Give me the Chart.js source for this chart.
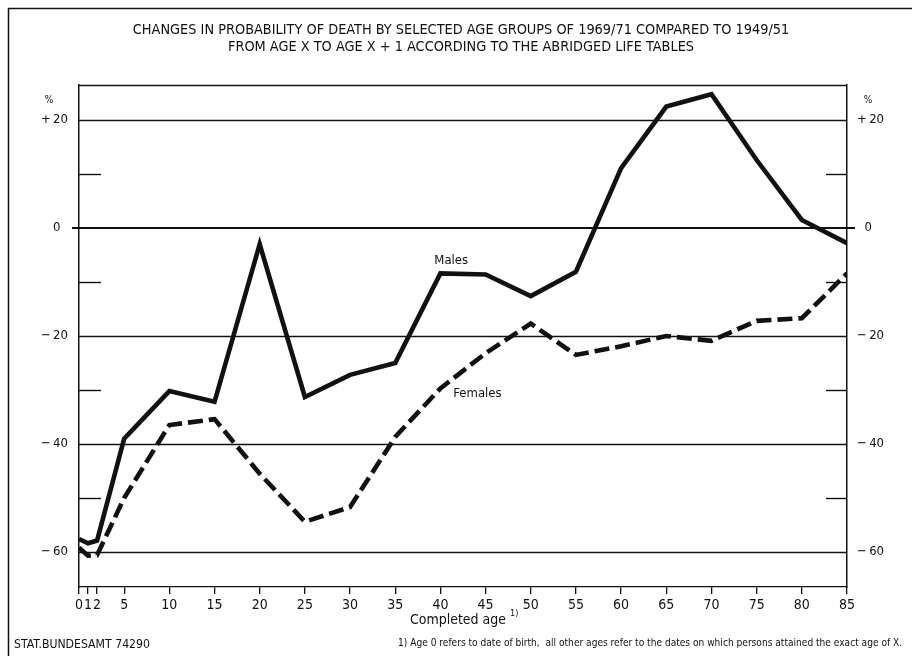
<!DOCTYPE html>
<html>
<head>
<meta charset="utf-8">
<script src="https://cdn.jsdelivr.net/npm/chart.js@4.4.1/dist/chart.umd.min.js"></script>
<style>
  html, body { margin: 0; padding: 0; background: #ffffff; }
  #wrap { width: 912px; height: 656px; }
</style>
</head>
<body>
<div id="wrap"><canvas id="c" width="912" height="656"></canvas></div>
<script>
// ---- data ----
const ages = [0, 1, 2, 5, 10, 15, 20, 25, 30, 35, 40, 45, 50, 55, 60, 65, 70, 75, 80, 85];
const males = [-57.6, -58.4, -57.9, -39.0, -30.2, -32.2, -3.0, -31.3, -27.2, -25.0, -8.4, -8.6, -12.6, -8.1, 11.1, 22.5, 24.8, 12.6, 1.5, -2.8];
const females = [-59.2, -60.7, -60.6, -50.0, -36.5, -35.4, -45.5, -54.4, -51.7, -38.7, -29.7, -23.2, -17.7, -23.5, -21.9, -20.0, -20.9, -17.2, -16.7, -8.4];
const xTickValues = [0, 1, 2, 5, 10, 15, 20, 25, 30, 35, 40, 45, 50, 55, 60, 65, 70, 75, 80, 85];
const yLabelValues = [20, 0, -20, -40, -60];
const yLeftLabels = ['+\u200920', '0\u2007', '\u2212\u200920', '\u2212\u200940', '\u2212\u200960'];
const yRightLabels = ['+\u200920', '\u20070', '\u2212\u200920', '\u2212\u200940', '\u2212\u200960'];
const yGridValues = [20, -20, -40, -60];
const yShortTickValues = [10, -10, -30, -50];
const titleLines = [
  'CHANGES IN PROBABILITY OF DEATH BY SELECTED AGE GROUPS OF 1969/71 COMPARED TO 1949/51',
  'FROM AGE X TO AGE X + 1 ACCORDING TO THE ABRIDGED LIFE TABLES'
];
const seriesNames = ['Males', 'Females'];
const xAxisTitle = 'Completed age';
const footnote = '1) Age 0 refers to date of birth,  all other ages refer to the dates on which persons attained the exact age of X.';
const sourceNote = 'STAT.BUNDESAMT 74290';
const unitLabel = '%';

const NARROW = "'Liberation Sans Narrow', 'DejaVu Sans Condensed', 'Arial Narrow', 'Liberation Sans', sans-serif";
const INK = '#111111';

function fitFont(ctx, text, target, base, weight) {
  ctx.font = (weight || '') + ' ' + base + 'px ' + NARROW;
  const w = ctx.measureText(text).width;
  const size = base * target / w;
  ctx.font = (weight || '') + ' ' + size.toFixed(2) + 'px ' + NARROW;
  return size;
}

const decorPlugin = {
  id: 'decor',
  beforeDatasetsDraw(chart) {
    const ctx = chart.ctx;
    const a = chart.chartArea;
    const ys = chart.scales.y;
    ctx.save();
    ctx.strokeStyle = INK;
    ctx.lineCap = 'butt';
    ctx.lineWidth = 1.3;
    yGridValues.forEach(v => {
      const y = Math.round(ys.getPixelForValue(v)) + 0.5;
      ctx.beginPath(); ctx.moveTo(a.left, y); ctx.lineTo(a.right, y); ctx.stroke();
    });
    ctx.lineWidth = 2;
    const y0 = Math.round(ys.getPixelForValue(0));
    ctx.beginPath(); ctx.moveTo(a.left - 7, y0); ctx.lineTo(a.right + 8, y0); ctx.stroke();
    ctx.lineWidth = 1.4;
    yShortTickValues.forEach(v => {
      const y = Math.round(ys.getPixelForValue(v)) + 0.5;
      ctx.beginPath(); ctx.moveTo(a.left, y); ctx.lineTo(a.left + 22, y); ctx.stroke();
      ctx.beginPath(); ctx.moveTo(a.right - 21, y); ctx.lineTo(a.right, y); ctx.stroke();
    });
    ctx.lineWidth = 1.5;
    ctx.beginPath(); ctx.moveTo(a.left, a.top + 0.5); ctx.lineTo(a.right, a.top + 0.5); ctx.stroke();
    ctx.restore();
  },
  afterDraw(chart) {
    const ctx = chart.ctx;
    const xs = chart.scales.x;
    const ys = chart.scales.y;
    ctx.save();
    ctx.fillStyle = INK;
    ctx.textBaseline = 'middle';
    ctx.textAlign = 'center';
    // title: both lines at the size that fits line 1
    const tSize = fitFont(ctx, titleLines[0], 657, 14);
    ctx.fillText(titleLines[0], 461, 30);
    ctx.font = tSize.toFixed(2) + 'px ' + NARROW;
    ctx.fillText(titleLines[1], 461, 47);
    // unit labels
    ctx.font = '10px ' + NARROW;
    ctx.fillText(unitLabel, 49, 100);
    ctx.fillText(unitLabel, 868, 100);
    // series labels, anchored to data space
    ctx.font = '13px ' + NARROW;
    ctx.fillText(seriesNames[0], xs.getPixelForValue(41.2), ys.getPixelForValue(-6.0));
    ctx.fillText(seriesNames[1], xs.getPixelForValue(44.1), ys.getPixelForValue(-30.6));
    // x axis title with superscript note mark
    ctx.font = '14px ' + NARROW;
    const tw = ctx.measureText(xAxisTitle).width;
    ctx.textAlign = 'left';
    const tx = 462 - tw / 2 - 4;
    ctx.fillText(xAxisTitle, tx, 620);
    ctx.font = '9px ' + NARROW;
    ctx.fillText('1)', tx + tw + 4, 614);
    // footnote and source
    fitFont(ctx, footnote, 505, 10.5);
    ctx.fillText(footnote, 398, 643);
    fitFont(ctx, sourceNote, 136, 10);
    ctx.fillText(sourceNote, 14, 645);
    // outer frame (left and top)
    ctx.strokeStyle = INK;
    ctx.lineWidth = 1.5;
    ctx.beginPath();
    ctx.moveTo(8.5, 656); ctx.lineTo(8.5, 8.5); ctx.lineTo(912, 8.5);
    ctx.stroke();
    ctx.restore();
  }
};

const ctx = document.getElementById('c').getContext('2d');
new Chart(ctx, {
  type: 'line',
  data: {
    datasets: [
      {
        label: seriesNames[0],
        data: ages.map((a, i) => ({ x: a, y: males[i] })),
        borderColor: INK,
        borderWidth: 4.6,
        borderJoinStyle: 'miter',
        borderCapStyle: 'butt',
        pointRadius: 0,
        tension: 0,
        fill: false
      },
      {
        label: seriesNames[1],
        data: ages.map((a, i) => ({ x: a, y: females[i] })),
        borderColor: INK,
        borderWidth: 4.6,
        borderDash: [15, 6],
        borderJoinStyle: 'miter',
        borderCapStyle: 'butt',
        pointRadius: 0,
        tension: 0,
        fill: false
      }
    ]
  },
  options: {
    responsive: false,
    animation: false,
    devicePixelRatio: 1,
    layout: { padding: { top: 85, left: 0, right: 0, bottom: 0 } },
    plugins: { legend: { display: false }, title: { display: false }, tooltip: { enabled: false } },
    scales: {
      x: {
        type: 'linear',
        min: 0,
        max: 85,
        afterFit(scale) { scale.height = 69; },
        afterBuildTicks(scale) { scale.ticks = xTickValues.map(v => ({ value: v })); },
        ticks: {
          autoSkip: false,
          maxRotation: 0,
          padding: 3,
          color: INK,
          font: { family: NARROW, size: 14 },
          callback: v => String(v)
        },
        grid: { display: true, drawOnChartArea: false, drawTicks: true, tickLength: 7, color: INK, lineWidth: 1.3 },
        border: { display: true, color: INK, width: 1.3 }
      },
      y: {
        type: 'linear',
        position: 'left',
        min: -66.5,
        max: 26.5,
        afterFit(scale) { scale.width = 79; },
        afterBuildTicks(scale) { scale.ticks = yLabelValues.map(v => ({ value: v })); },
        ticks: {
          padding: 11,
          color: INK,
          font: { family: NARROW, size: 13 },
          callback: v => yLeftLabels[yLabelValues.indexOf(v)]
        },
        grid: { display: false, drawTicks: false },
        border: { display: true, color: INK, width: 1.5 }
      },
      y2: {
        type: 'linear',
        position: 'right',
        min: -66.5,
        max: 26.5,
        afterFit(scale) { scale.width = 65; },
        afterBuildTicks(scale) { scale.ticks = yLabelValues.map(v => ({ value: v })); },
        ticks: {
          padding: 10,
          color: INK,
          font: { family: NARROW, size: 13 },
          callback: v => yRightLabels[yLabelValues.indexOf(v)]
        },
        grid: { display: false, drawTicks: false },
        border: { display: true, color: INK, width: 1.5 }
      }
    }
  },
  plugins: [decorPlugin]
});
</script>
</body>
</html>
